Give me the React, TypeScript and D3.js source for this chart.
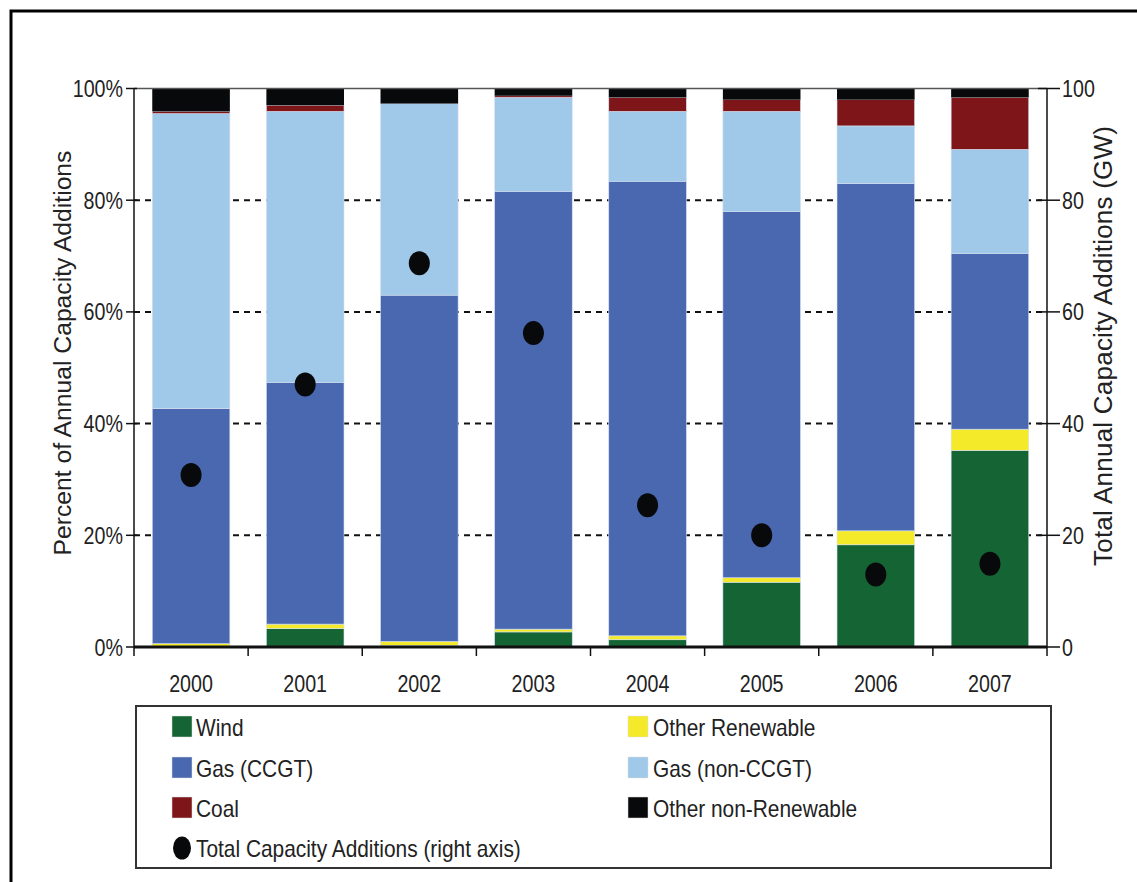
import React from "react";
import * as d3 from "d3";

const years = ["2000", "2001", "2002", "2003", "2004", "2005", "2006", "2007"];
const wind = [0, 3.3, 0.3, 2.7, 1.3, 11.6, 18.3, 35.2];
const otherRenewable = [0.6, 0.8, 0.7, 0.5, 0.7, 0.8, 2.5, 3.8];
const gasCCGT = [42.1, 43.3, 62.0, 78.4, 81.4, 65.6, 62.2, 31.5];
const gasNonCCGT = [52.8, 48.5, 34.3, 16.8, 12.5, 17.9, 10.3, 18.6];
const coal = [0.4, 1.1, 0, 0.3, 2.5, 2.1, 4.7, 9.3];
const otherNonRenewable = [4.1, 3.0, 2.7, 1.3, 1.6, 2.0, 2.0, 1.6];
const totalGW = [30.8, 47.0, 68.7, 56.2, 25.4, 20.0, 13.0, 14.9];

const leftTicks = [0, 20, 40, 60, 80, 100];
const rightTicks = [0, 20, 40, 60, 80, 100];

const seriesNames = ["Wind", "Other Renewable", "Gas (CCGT)", "Gas (non-CCGT)", "Coal", "Other non-Renewable"];
const seriesData = [wind, otherRenewable, gasCCGT, gasNonCCGT, coal, otherNonRenewable];
const colors = ["#156434", "#f4ea2a", "#4a68b0", "#9fc8e9", "#7e1619", "#08090b"];

const W = 1137, H = 882;
const left = 134, right = 1047, top = 88.5, bottom = 647;
const FONT = "'Liberation Sans', Arial, sans-serif";

function CText({ x, y, anchor = "start", size = 24, sx = 0.82, children, fill = "#222" }: any) {
  return (
    <text
      transform={`translate(${x},${y}) scale(${sx},1)`}
      textAnchor={anchor}
      fontSize={size}
      fontFamily={FONT}
      fill={fill}
    >
      {children}
    </text>
  );
}

export default function App() {
  const x = d3.scaleBand<string>().domain(years).range([left, right]).paddingInner(0.32).paddingOuter(0.16);
  const y = d3.scaleLinear().domain([0, 100]).range([bottom, top]);
  const yR = d3.scaleLinear().domain([0, 100]).range([bottom, top]);

  const rows = years.map((yr, i) => {
    const r: any = { year: yr };
    seriesNames.forEach((s, k) => (r[s] = seriesData[k][i]));
    return r;
  });
  const stacked = d3.stack<any>().keys(seriesNames)(rows);

  const step = x.step();
  const boundaries = d3.range(years.length + 1).map((i) => left + i * step);

  const legendLeft = [
    { name: "Wind", color: colors[0] },
    { name: "Gas (CCGT)", color: colors[2] },
    { name: "Coal", color: colors[4] },
  ];
  const legendRight = [
    { name: "Other Renewable", color: colors[1] },
    { name: "Gas (non-CCGT)", color: colors[3] },
    { name: "Other non-Renewable", color: colors[5] },
  ];
  const rowY = [727, 768, 808, 848];
  const LSX = 0.87;

  return (
    <svg width={W} height={H} style={{ position: "absolute", left: 0, top: 0, background: "#fff" }}>
      <rect x={0} y={0} width={W} height={H} fill="#fff" />
      <rect x={11} y={11} width={W + 20} height={H + 20} fill="none" stroke="#000" strokeWidth={3} />

      {/* gridlines */}
      {leftTicks.filter((t) => t > 0 && t < 100).map((t) => (
        <line key={t} x1={left} x2={right} y1={y(t)} y2={y(t)} stroke="#111" strokeWidth={2} strokeDasharray="6,5" />
      ))}

      {/* bars */}
      {stacked.map((layer, k) => (
        <g key={k} fill={colors[k]}>
          {layer.map((d, i) => {
            const h = y(d[0]) - y(d[1]);
            if (h <= 0) return null;
            return (
              <rect
                key={i}
                x={x(years[i])}
                y={y(d[1])}
                width={x.bandwidth()}
                height={h}
                stroke={k === 5 ? "none" : "#d6e2f2"}
                strokeWidth={0.6}
              />
            );
          })}
        </g>
      ))}

      {/* top line */}
      <line x1={left} x2={right} y1={top} y2={top} stroke="#555" strokeWidth={1.5} />
      {/* axes */}
      <line x1={left} x2={left} y1={top} y2={bottom} stroke="#111" strokeWidth={1.5} />
      <line x1={right} x2={right} y1={top} y2={bottom} stroke="#111" strokeWidth={1.5} />
      <line x1={left} x2={right} y1={bottom} y2={bottom} stroke="#111" strokeWidth={3} />

      {/* left ticks */}
      {leftTicks.map((t) => (
        <g key={t}>
          <line x1={left - 8} x2={left + 3} y1={y(t)} y2={y(t)} stroke="#111" strokeWidth={1.5} />
          <CText x={left - 11} y={y(t) + 8.5} anchor="end">{t + "%"}</CText>
        </g>
      ))}
      {/* right ticks */}
      {rightTicks.map((t) => (
        <g key={t}>
          <line x1={right - 9} x2={right + 13} y1={yR(t)} y2={yR(t)} stroke="#111" strokeWidth={1.5} />
          <CText x={right + 15} y={yR(t) + 8.5} anchor="start">{String(t)}</CText>
        </g>
      ))}
      {/* bottom ticks */}
      {boundaries.map((b, i) => (
        <line key={i} x1={b} x2={b} y1={bottom} y2={bottom + 9} stroke="#111" strokeWidth={1.5} />
      ))}
      {years.map((yr) => (
        <CText key={yr} x={(x(yr) as number) + x.bandwidth() / 2} y={692} anchor="middle">{yr}</CText>
      ))}

      {/* dots */}
      {totalGW.map((v, i) => (
        <ellipse key={i} cx={(x(years[i]) as number) + x.bandwidth() / 2} cy={yR(v)} rx={10.5} ry={12} fill="#08090b" />
      ))}

      {/* axis titles */}
      <text
        transform={`translate(71,353) rotate(-90)`}
        textAnchor="middle"
        fontSize={24.7}
        fontFamily={FONT}
        fill="#222"
      >
        Percent of Annual Capacity Additions
      </text>
      <text
        transform={`translate(1112,346) rotate(-90)`}
        textAnchor="middle"
        fontSize={26}
        fontFamily={FONT}
        fill="#222"
        textLength={440}
        lengthAdjust="spacing"
      >
        Total Annual Capacity Additions (GW)
      </text>

      {/* legend */}
      <rect x={136} y={706} width={915} height={162} fill="#fff" stroke="#333" strokeWidth={2} />
      {legendLeft.map((l, i) => (
        <g key={l.name}>
          <rect x={172} y={rowY[i] - 11} width={20} height={21} fill={l.color} stroke="#ddd" strokeWidth={0.5} />
          <CText x={196} y={rowY[i] + 8.5} sx={LSX}>{l.name}</CText>
        </g>
      ))}
      {legendRight.map((l, i) => (
        <g key={l.name}>
          <rect x={628} y={rowY[i] - 11} width={20} height={21} fill={l.color} stroke="#ddd" strokeWidth={0.5} />
          <CText x={653} y={rowY[i] + 8.5} sx={LSX}>{l.name}</CText>
        </g>
      ))}
      <ellipse cx={182} cy={rowY[3]} rx={9} ry={11.5} fill="#08090b" />
      <CText x={196} y={rowY[3] + 8.5} sx={LSX}>Total Capacity Additions (right axis)</CText>
    </svg>
  );
}
